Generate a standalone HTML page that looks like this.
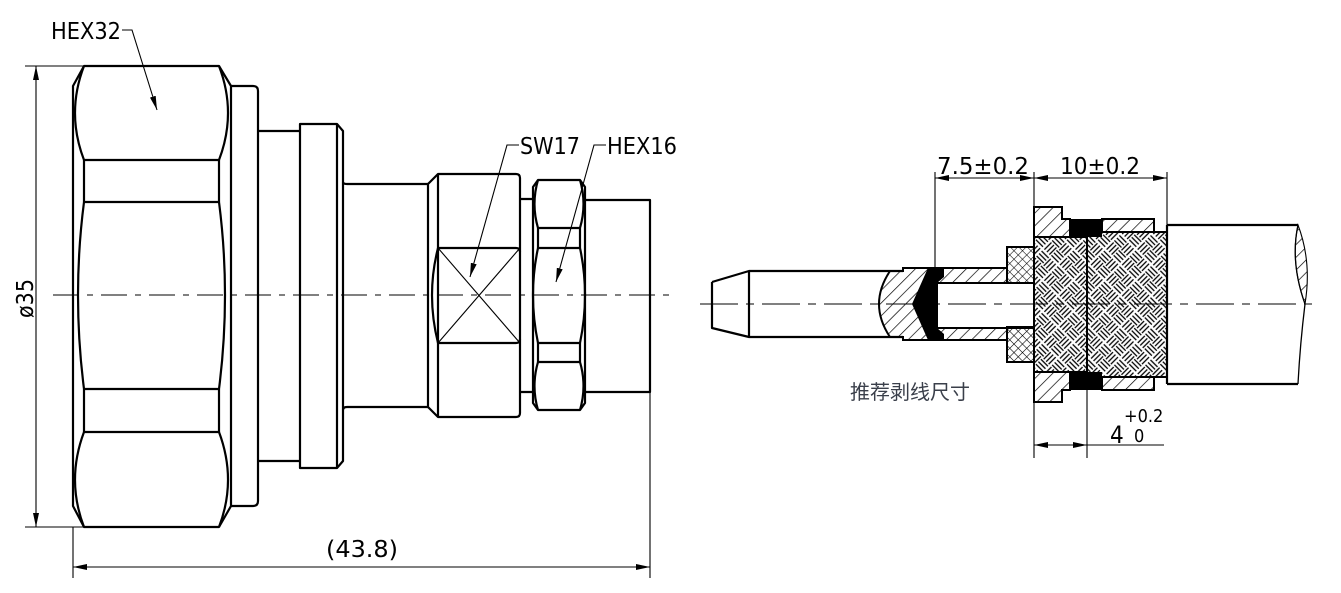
<!DOCTYPE html>
<html><head><meta charset="utf-8"><style>
html,body{margin:0;padding:0;background:#fff;}
svg{display:block;}
text{font-family:"DejaVu Sans Condensed","Liberation Sans",sans-serif;fill:#000;}
</style></head><body>
<svg width="1341" height="593" viewBox="0 0 1341 593" xmlns="http://www.w3.org/2000/svg">
<defs>
<pattern id="h1" width="9" height="9" patternUnits="userSpaceOnUse" patternTransform="rotate(45)">
<line x1="0" y1="0" x2="0" y2="9" stroke="#000" stroke-width="1.4"/>
</pattern>
<pattern id="xh" width="6" height="6" patternUnits="userSpaceOnUse" patternTransform="rotate(45)">
<line x1="0" y1="0" x2="0" y2="6" stroke="#000" stroke-width="1.1"/>
<line x1="0" y1="0" x2="6" y2="0" stroke="#000" stroke-width="1.1"/>
</pattern>
<pattern id="wv" width="22" height="22" patternUnits="userSpaceOnUse" patternTransform="rotate(45)">
<g stroke="#000" stroke-width="1.3">
<line x1="0" y1="2" x2="10" y2="2"/><line x1="0" y1="5.5" x2="10" y2="5.5"/><line x1="0" y1="9" x2="10" y2="9"/>
<line x1="13" y1="0" x2="13" y2="10"/><line x1="16.5" y1="0" x2="16.5" y2="10"/><line x1="20" y1="0" x2="20" y2="10"/>
<line x1="2" y1="12" x2="2" y2="22"/><line x1="5.5" y1="12" x2="5.5" y2="22"/><line x1="9" y1="12" x2="9" y2="22"/>
<line x1="12" y1="13" x2="22" y2="13"/><line x1="12" y1="16.5" x2="22" y2="16.5"/><line x1="12" y1="20" x2="22" y2="20"/>
</g>
</pattern>
<marker id="ar" viewBox="0 0 14 6" refX="14" refY="3" markerWidth="14" markerHeight="6" markerUnits="userSpaceOnUse" orient="auto">
<path d="M0,0 L14,3 L0,6 Z" fill="#000"/>
</marker>
<marker id="al" viewBox="0 0 14 6" refX="0" refY="3" markerWidth="14" markerHeight="6" markerUnits="userSpaceOnUse" orient="auto">
<path d="M14,0 L0,3 L14,6 Z" fill="#000"/>
</marker>
</defs>

<g fill="none" stroke="#000" stroke-width="2.2" stroke-linejoin="round">
<path d="M84,66 L219,66 L231,86 L231,506 L219,527 L84,527 L73,506 L73,86 Z"/>
<path d="M84,66 Q66,113 84,160 M219,66 Q237,113 219,160"/>
<line x1="84" y1="160" x2="219" y2="160"/>
<line x1="84" y1="202" x2="219" y2="202"/>
<line x1="84" y1="160" x2="84" y2="202"/><line x1="219" y1="160" x2="219" y2="202"/>
<path d="M84,202 Q72,295 84,389 M219,202 Q231,295 219,389"/>
<line x1="84" y1="389" x2="219" y2="389"/>
<line x1="84" y1="432" x2="219" y2="432"/>
<line x1="84" y1="389" x2="84" y2="432"/><line x1="219" y1="389" x2="219" y2="432"/>
<path d="M84,432 Q66,480 84,527 M219,432 Q237,480 219,527"/>
<path d="M231,86 L253,86 Q258,86 258,91 L258,501 Q258,506 253,506 L231,506"/>
<path d="M258,131 L300,131 M258,461 L300,461"/>
<path d="M300,124 L337,124 L343,131 L343,461 L337,468 L300,468 Z"/>
<line x1="337" y1="124" x2="337" y2="468"/>
<path d="M343,182 Q343,184 347,184 L428,184 M343,410 Q343,407 347,407 L428,407"/>
<path d="M428,184 L438,174 L516,174 Q520,174 520,178 L520,413 Q520,417 516,417 L438,417 L428,407 Z"/>
<line x1="438" y1="174" x2="438" y2="417"/>
<path d="M438,248 L516,248 Q520,248 520,252 M438,343 L516,343 Q520,343 520,339"/>
<path d="M438,248 Q426,295 438,343"/>
<path d="M520,199 L533,199 M520,392 L533,392"/>
<path d="M538,180 L580,180 L585,187 L585,403 L580,410 L538,410 L533,403 L533,187 Z"/>
<path d="M538,180 Q531,204 538,228 M580,180 Q587,204 580,228"/>
<line x1="538" y1="228" x2="580" y2="228"/><line x1="538" y1="248" x2="580" y2="248"/>
<line x1="538" y1="228" x2="538" y2="248"/><line x1="580" y1="228" x2="580" y2="248"/>
<path d="M538,248 Q528,295 538,343 M580,248 Q590,295 580,343"/>
<line x1="538" y1="343" x2="580" y2="343"/><line x1="538" y1="362" x2="580" y2="362"/>
<line x1="538" y1="343" x2="538" y2="362"/><line x1="580" y1="343" x2="580" y2="362"/>
<path d="M538,362 Q531,386 538,410 M580,362 Q587,386 580,410"/>
<path d="M585,200 L650,200 L650,392 L585,392"/>
</g>
<g stroke="#000" stroke-width="1.1" fill="none">
<line x1="438" y1="248" x2="520" y2="343"/><line x1="438" y1="343" x2="520" y2="248"/>
<line x1="53" y1="295" x2="670" y2="295" stroke-dasharray="26,8,6,8"/>
<line x1="650" y1="392" x2="650" y2="578"/>
<line x1="73" y1="527" x2="73" y2="578"/>
<line x1="73" y1="567" x2="650" y2="567" marker-start="url(#al)" marker-end="url(#ar)"/>
<line x1="25" y1="66" x2="84" y2="66"/><line x1="25" y1="527" x2="84" y2="527"/>
<line x1="36" y1="66" x2="36" y2="527" marker-start="url(#al)" marker-end="url(#ar)"/>
<polyline points="122,30 132,30 157,110" marker-end="url(#ar)"/>
<polyline points="519,145 507,145 470,277" marker-end="url(#ar)"/>
<polyline points="606,145 594,145 556,282" marker-end="url(#ar)"/>
</g>
<g font-size="23">
<text x="51" y="39" textLength="70" lengthAdjust="spacingAndGlyphs">HEX32</text>
<text x="520" y="154" textLength="60" lengthAdjust="spacingAndGlyphs">SW17</text>
<text x="607" y="154" textLength="70" lengthAdjust="spacingAndGlyphs">HEX16</text>
<text x="326" y="557" textLength="72" lengthAdjust="spacingAndGlyphs">(43.8)</text>
<text x="0" y="0" transform="translate(33,318) rotate(-90)">ø35</text>
</g>

<g stroke="#000" stroke-width="2.2" fill="none" stroke-linejoin="round">
<path d="M712,282 L749,271 L903,271 M712,282 L712,328 L749,337 L903,337"/>
<line x1="749" y1="271" x2="749" y2="337"/>
</g>
<path d="M890,271 L903,271 L903,268 L1007,268 L1007,283 L937,283 L937,328 L1007,328 L1007,340 L903,340 L903,337 L890,337 Q868,304 890,271 Z" fill="url(#h1)" stroke="#000" stroke-width="2"/>
<path d="M928,268 L944,268 L944,277 L937,283 L937,328 L944,334 L944,340 L928,340 L912,304 Z" fill="#000"/>
<rect x="937" y="283" width="97" height="45" fill="#fff" stroke="#000" stroke-width="2"/>
<rect x="1007" y="247" width="27" height="36" fill="url(#xh)" stroke="#000" stroke-width="2"/>
<rect x="1007" y="327" width="27" height="35" fill="url(#xh)" stroke="#000" stroke-width="2"/>
<path d="M1034,207 L1062,207 L1062,219 L1070,219 L1070,237 L1034,237 Z" fill="url(#h1)" stroke="#000" stroke-width="2"/>
<path d="M1034,402 L1062,402 L1062,390 L1070,390 L1070,372 L1034,372 Z" fill="url(#h1)" stroke="#000" stroke-width="2"/>
<rect x="1070" y="219" width="32" height="18" fill="#000"/>
<rect x="1070" y="372" width="32" height="18" fill="#000"/>
<rect x="1102" y="219" width="52" height="13" fill="url(#h1)" stroke="#000" stroke-width="2"/>
<rect x="1102" y="377" width="52" height="13" fill="url(#h1)" stroke="#000" stroke-width="2"/>
<rect x="1034" y="237" width="53" height="135" fill="url(#wv)" stroke="#000" stroke-width="2"/>
<rect x="1087" y="232" width="80" height="145" fill="url(#wv)" stroke="#000" stroke-width="2"/>
<path d="M1167,225 L1298,225 M1167,384 L1298,384" stroke="#000" stroke-width="2.2" fill="none"/>
<line x1="1167" y1="225" x2="1167" y2="384" stroke="#000" stroke-width="2.2"/>
<path d="M1298,225 Q1290,262 1305,304 Q1300,345 1298,384" fill="none" stroke="#000" stroke-width="1.3"/>
<path d="M1298,225 Q1290,262 1305,304 Q1312,262 1298,225 Z" fill="url(#h1)" stroke="#000" stroke-width="1.1"/>
<g stroke="#000" stroke-width="1.1" fill="none">
<line x1="700" y1="304" x2="1312" y2="304" stroke-dasharray="38,8,8,8"/>
<line x1="935" y1="172" x2="935" y2="268"/>
<line x1="1034" y1="172" x2="1034" y2="458"/>
<line x1="1167" y1="172" x2="1167" y2="225"/>
<line x1="1087" y1="377" x2="1087" y2="458"/>
<line x1="935" y1="178" x2="1034" y2="178" marker-start="url(#al)" marker-end="url(#ar)"/>
<line x1="1034" y1="178" x2="1167" y2="178" marker-start="url(#al)" marker-end="url(#ar)"/>
<line x1="1034" y1="445" x2="1087" y2="445" marker-start="url(#al)" marker-end="url(#ar)"/>
<line x1="1087" y1="445" x2="1164" y2="445"/>
</g>
<text x="937" y="174" font-size="23" textLength="92" lengthAdjust="spacingAndGlyphs">7.5±0.2</text>
<text x="1060" y="174" font-size="23" textLength="80" lengthAdjust="spacingAndGlyphs">10±0.2</text>
<text x="1110" y="443" font-size="24">4</text>
<text x="1124" y="422" font-size="18">+0.2</text>
<text x="1134" y="442" font-size="18">0</text>
<text x="850" y="399" font-size="20" style="font-family:'Noto Sans CJK SC',sans-serif;fill:#3a3f4a">推荐剥线尺寸</text>
</svg>
</body></html>
